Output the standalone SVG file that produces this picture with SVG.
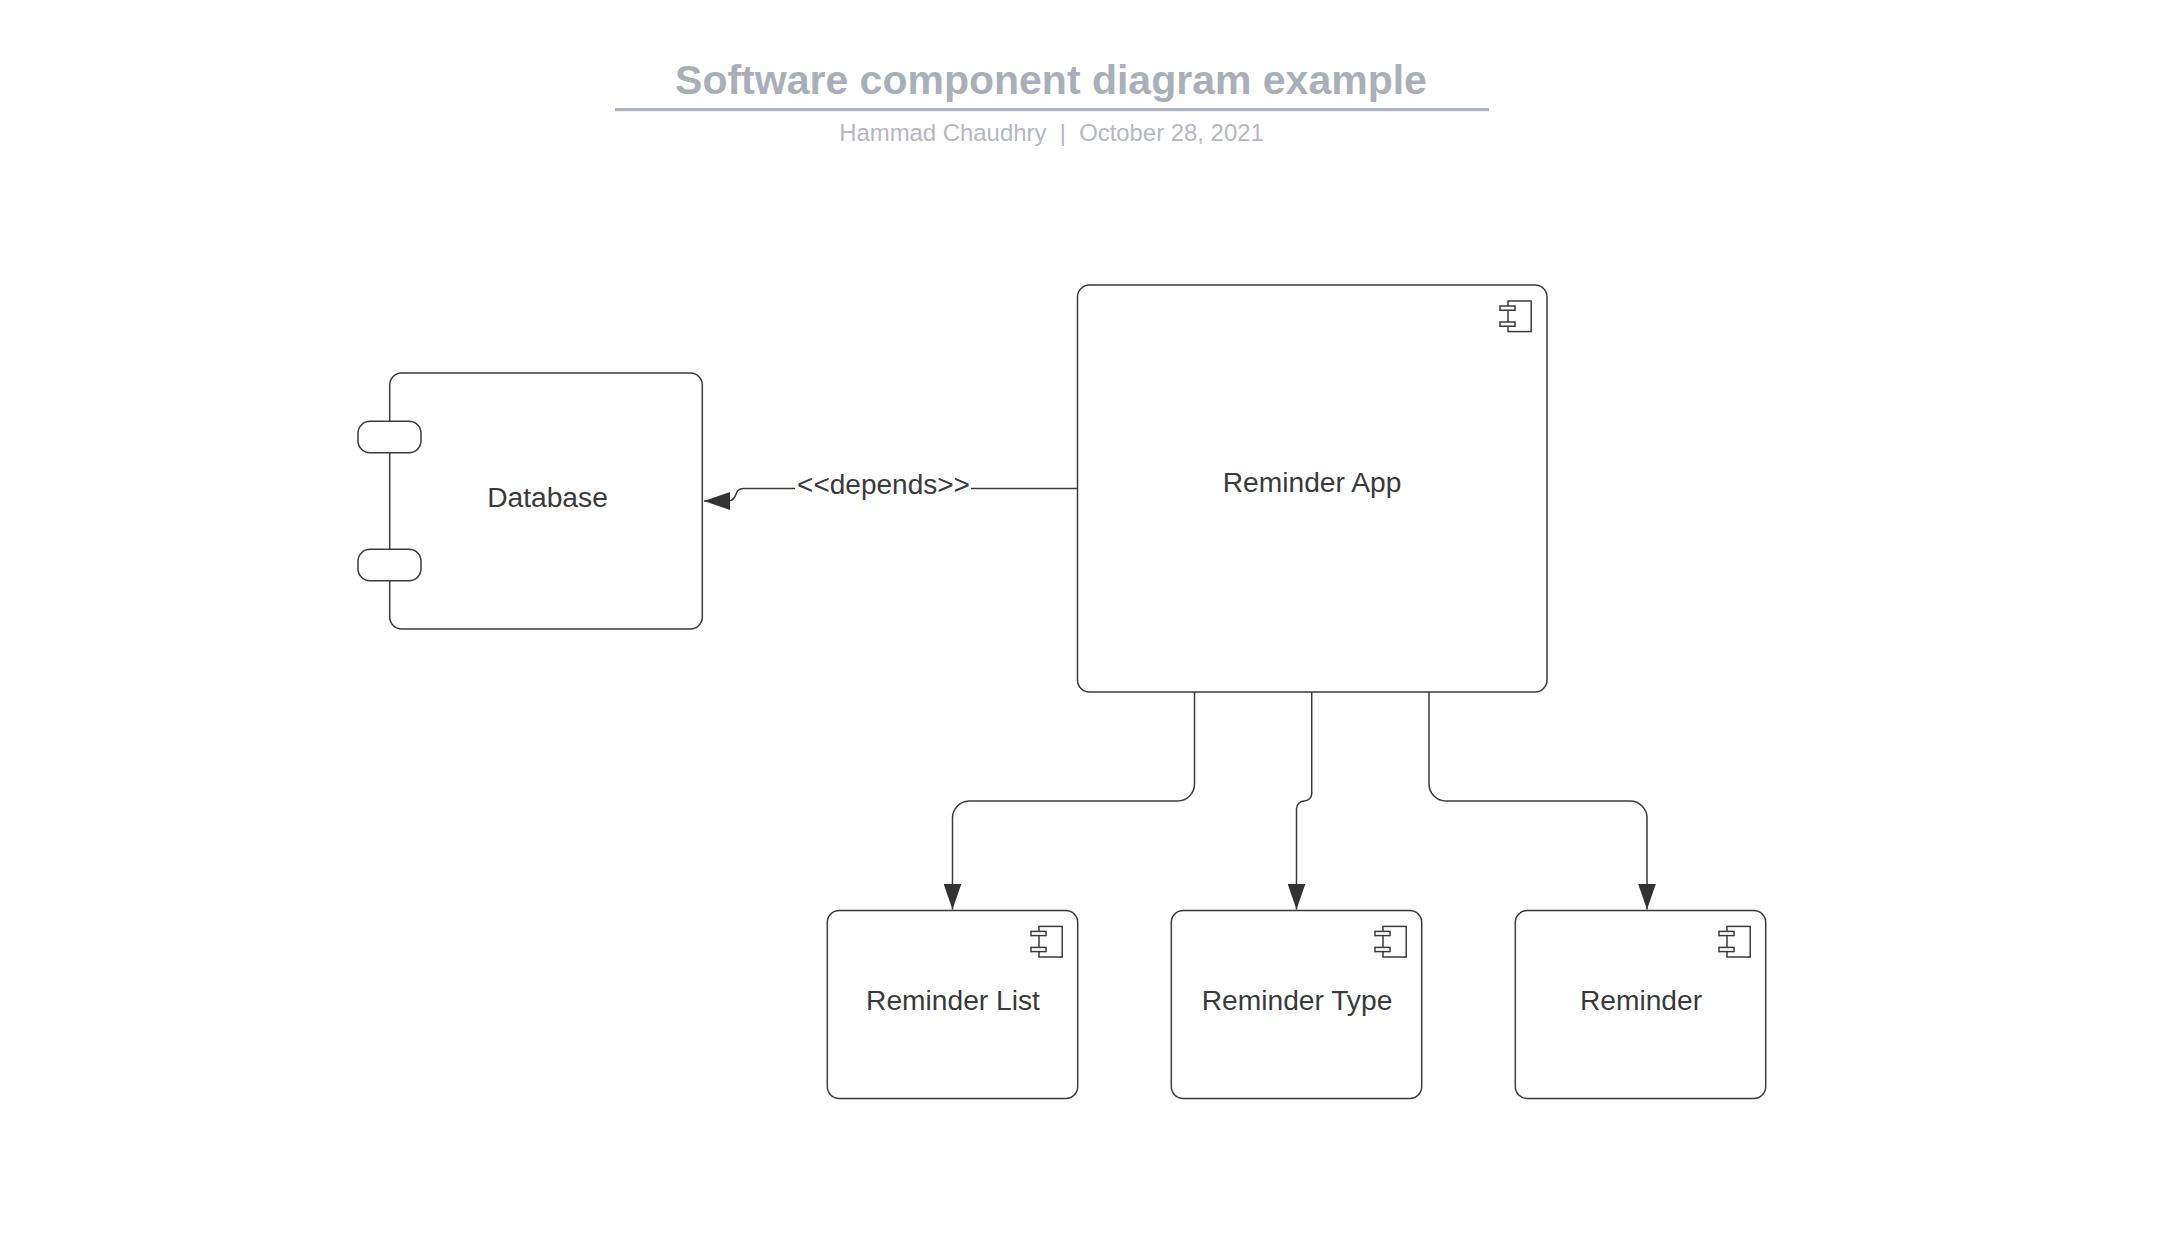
<svg xmlns="http://www.w3.org/2000/svg" width="2168" height="1244" viewBox="0 0 2168 1244">
<style>
text{font-family:"Liberation Sans",Arial,sans-serif;fill:#3a3a3a;font-size:28.2px;text-anchor:middle}
.b{fill:#fff;stroke:#3a3a3a;stroke-width:1.5}
.c{fill:none;stroke:#3a3a3a;stroke-width:1.5}
#title text.t{font-size:41px;font-weight:700;fill:#a9afb8}
#title text.s{font-size:23.9px;fill:#b4b7c2;white-space:pre}
#connectors text{font-size:28px}
</style>
<defs>
<g id="icon">
<rect class="b" x="8" y="0" width="23.2" height="30.6"/>
<rect class="b" x="0" y="5" width="15" height="4.2"/>
<rect class="b" x="0" y="21" width="15" height="4.2"/>
</g>
<marker id="arrow" markerUnits="userSpaceOnUse" markerWidth="26" markerHeight="18" refX="26" refY="9" orient="auto" viewBox="0 0 26 18"><path d="M0 0L26 9L0 18Z" fill="#333"/></marker>
</defs>
<rect width="2168" height="1244" fill="#fff"/>
<g id="title">
<text class="t" x="1051" y="94">Software component diagram example</text>
<rect x="615" y="108" width="874" height="3.2" fill="#b0b5c0"/>
<text class="s" x="1051.5" y="141">Hammad Chaudhry  |  October 28, 2021</text>
</g>
<g id="database">
<rect class="b" x="389.7" y="373" width="312.6" height="256" rx="12"/>
<rect class="b" x="358" y="421.3" width="63" height="31.4" rx="12"/>
<rect class="b" x="358" y="549.3" width="63" height="31.4" rx="12"/>
<text x="547.5" y="507">Database</text>
</g>
<g id="reminder-app">
<rect class="b" x="1077.5" y="285" width="469.5" height="407" rx="12"/>
<use href="#icon" x="1500" y="301"/>
<text x="1312" y="492">Reminder App</text>
</g>
<g id="reminder-list">
<rect class="b" x="827.3" y="910.5" width="250.4" height="188" rx="12"/>
<use href="#icon" x="1031" y="926.400"/>
<text x="953" y="1009.5">Reminder List</text>
</g>
<g id="reminder-type">
<rect class="b" x="1171.3" y="910.5" width="250.4" height="188" rx="12"/>
<use href="#icon" x="1375" y="926.400"/>
<text x="1297" y="1009.5">Reminder Type</text>
</g>
<g id="reminder">
<rect class="b" x="1515.3" y="910.5" width="250.4" height="188" rx="12"/>
<use href="#icon" x="1719" y="926.400"/>
<text x="1641" y="1009.5">Reminder</text>
</g>
<g id="connectors">
<path class="c" d="M1077.5 488.5H971M795 488.5H744C735 488.5 737 495 734 498C732.500 500 731 501 728 501H704" marker-end="url(#arrow)"/>
<text x="883.5" y="494">&lt;&lt;depends&gt;&gt;</text>
<path class="c" d="M1194.5 692V784A17 17 0 0 1 1177.5 801H969A17 17 0 0 0 952.500 818V909.5" marker-end="url(#arrow)"/>
<path class="c" d="M1311.7 692V793.5A7.5 7.5 0 0 1 1304.2 801A7.7 7.7 0 0 0 1296.5 808.5V909.5" marker-end="url(#arrow)"/>
<path class="c" d="M1429 692V784A17 17 0 0 0 1446 801H1630A17 17 0 0 1 1647 818V909.5" marker-end="url(#arrow)"/>
</g>
</svg>
